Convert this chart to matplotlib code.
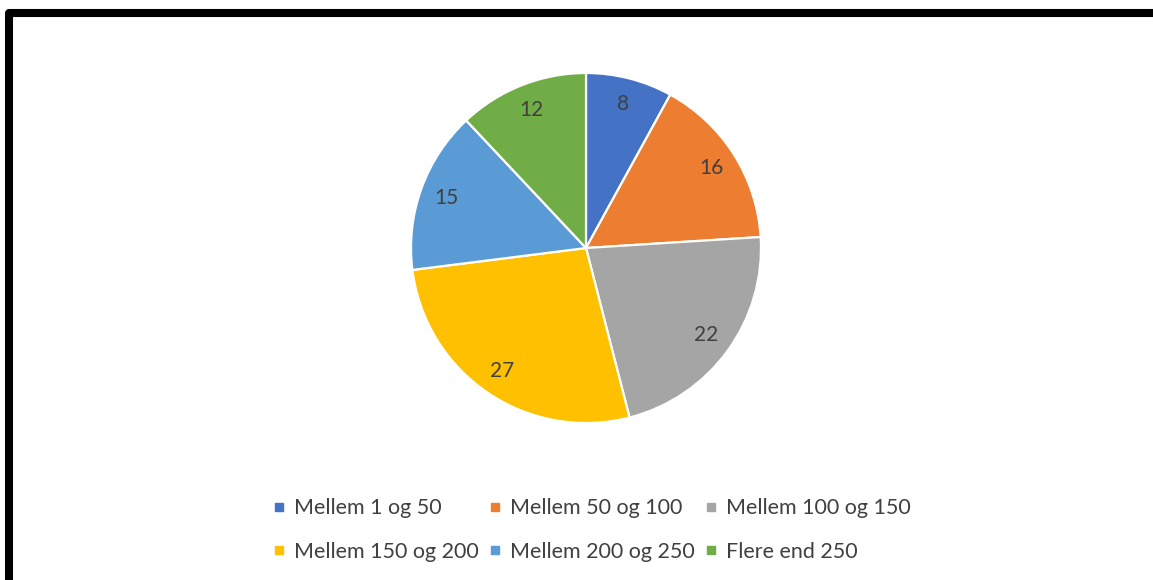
import matplotlib
matplotlib.use("Agg")
import matplotlib.pyplot as plt
from matplotlib.lines import Line2D

categories = ["Mellem 1 og 50", "Mellem 50 og 100", "Mellem 100 og 150",
              "Mellem 150 og 200", "Mellem 200 og 250", "Flere end 250"]
values = [8, 16, 22, 27, 15, 12]
colors = ["#4472C4", "#ED7D31", "#A5A5A5", "#FFC000", "#5B9BD5", "#70AD47"]

plt.rcParams['font.family'] = ['Lato', 'DejaVu Sans']
W, H = 1153, 580
fig = plt.figure(figsize=(W / 100, H / 100), dpi=100)
fig.patch.set_facecolor("white")

# frame (left and top edges; cut off at right and bottom)
frame = Line2D([9 / W, 9 / W, (W + 20) / W], [-0.05, 1 - 13 / H, 1 - 13 / H],
               transform=fig.transFigure, color="black", linewidth=5.8,
               solid_joinstyle="round", solid_capstyle="butt", clip_on=False)
fig.add_artist(frame)

cx, cy, r = 586, 248, 175
ax = fig.add_axes([(cx - r) / W, (H - cy - r) / H, 2 * r / W, 2 * r / H])
total = sum(values)
wedges, texts, autotexts = ax.pie(
    values, colors=colors, startangle=90, counterclock=False,
    wedgeprops=dict(edgecolor="white", linewidth=1.6),
    autopct=lambda p: f"{round(p * total / 100)}", pctdistance=0.85,
    textprops=dict(color="#404040", fontsize=15))
ax.set_xlim(-1, 1)
ax.set_ylim(-1, 1)
ax.axis("off")

handles = [Line2D([], [], marker="s", linestyle="none", markersize=6,
                  markerfacecolor=c, markeredgecolor=c) for c in colors]
order = [0, 3, 1, 4, 2, 5]  # row-wise filling
leg = fig.legend([handles[i] for i in order], [categories[i] for i in order],
                 loc="center", ncol=3,
                 bbox_to_anchor=(592 / W, (H - 530) / H), frameon=False,
                 fontsize=15.5, labelcolor="#404040", handlelength=0.5,
                 handletextpad=0.45, columnspacing=0.5, labelspacing=1.1)

fig.savefig("out.png", dpi=100)
